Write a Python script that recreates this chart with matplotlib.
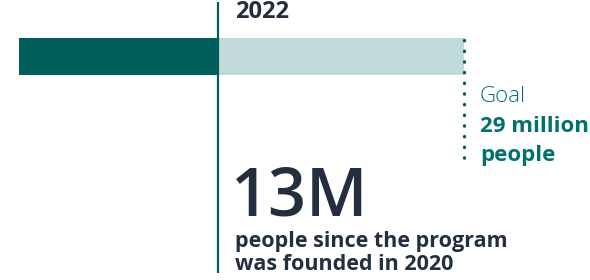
import matplotlib.pyplot as plt

# values in millions of people
goal = 29
reached = 13
year_label = "2022"
big_label = "13M"
big_caption = ["people since the program", "was founded in 2020"]
goal_lines = ["Goal", "29 million", "people"]

DARK = "#005F5B"
LIGHT = "#C0D9D9"
NAVY = "#232F3E"
TEAL = "#00716D"

plt.rcParams["font.family"] = ["Open Sans", "DejaVu Sans"]

W, H = 590, 280
fig = plt.figure(figsize=(W / 100, H / 100), dpi=100)
ax = fig.add_axes([0, 0, 1, 1])
ax.set_axis_off()

# 0 at pixel 19, goal at pixel 464
x0 = 19
px_per = (464 - x0) / goal
ax.set_xlim(-x0 / px_per, (W - x0) / px_per)
ax.set_ylim(H, 0)

ax.barh(56.5, goal, height=37, left=0, color=LIGHT)
ax.barh(56.5, reached, height=37, left=0, color=DARK)

ax.plot([reached, reached], [2, 273], color=DARK, lw=1.6, solid_capstyle="butt")
ax.plot([goal, goal], [40, 164], color=DARK, lw=2.4, ls=(0, (0.1, 3.1)),
        dash_capstyle="round")

ax.text(reached + 17 / px_per, 12, year_label, fontsize=17, fontweight="bold",
        color=NAVY, va="center")

gx = goal + 16 / px_per
ax.text(gx, 97, goal_lines[0], fontsize=16, fontweight="light", color=TEAL, va="center")
ax.text(gx, 127, goal_lines[1], fontsize=16, fontweight="bold", color=TEAL, va="center")
ax.text(gx, 155, goal_lines[2], fontsize=16, fontweight="bold", color=TEAL, va="center")

ax.text(reached + 12 / px_per, 216, big_label, fontsize=48, fontweight="semibold",
        color=NAVY, va="baseline")
ax.text(reached + 17 / px_per, 241, big_caption[0], fontsize=15.5, fontweight="bold",
        color=NAVY, va="center")
ax.text(reached + 17 / px_per, 265, big_caption[1], fontsize=15.5, fontweight="bold",
        color=NAVY, va="center")

fig.savefig("out.png", dpi=100)
